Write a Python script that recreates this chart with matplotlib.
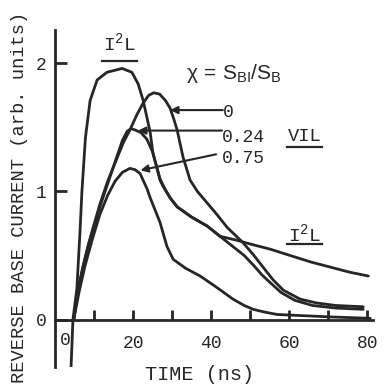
import matplotlib
matplotlib.use('Agg')
import matplotlib.pyplot as plt

# fonts: typewriter look like the scanned figure
plt.rcParams['font.family'] = ['Liberation Mono', 'DejaVu Sans']
plt.rcParams['mathtext.fontset'] = 'custom'
plt.rcParams['mathtext.rm'] = 'Liberation Mono'
plt.rcParams['mathtext.sf'] = 'Liberation Sans'
plt.rcParams['mathtext.it'] = 'Liberation Mono'

ink = '#262626'

# I2L curve (time in ns, current in arb. units)
t_i2l = [4.1, 4.6, 5.6, 6.4, 6.9, 7.8, 9.0, 10.8, 13.3, 17.2, 19.7, 21.3, 22.6,
         24.4, 25.1, 26.9, 27.7, 29.5, 31.3, 35.0, 39.0, 42.3, 46.5, 50.0, 55.1,
         60.3, 65.5, 70.5, 75.5, 80.3]
i_i2l = [-0.38, 0.0, 0.24, 0.68, 1.0, 1.42, 1.71, 1.87, 1.93, 1.96, 1.93, 1.84, 1.71,
         1.46, 1.30, 1.09, 1.04, 0.95, 0.88, 0.80, 0.73, 0.65, 0.62, 0.59, 0.55,
         0.50, 0.45, 0.41, 0.37, 0.34]

# VIL, chi = 0
t_x0 = [4.8, 6.0, 7.2, 8.5, 9.7, 11.5, 13.5, 15.9, 17.5, 19.2, 21.0, 22.6, 24.0,
        25.3, 26.8, 28.3, 29.5, 30.5, 31.3, 32.8, 34.6, 36.5, 39.0, 41.5, 44.1,
        48.2, 51.0, 53.3, 55.9, 58.5, 62.8, 67.0, 72.0, 79.0]
i_x0 = [0.0, 0.25, 0.42, 0.58, 0.71, 0.90, 1.08, 1.26, 1.38, 1.48, 1.60, 1.69, 1.75,
        1.77, 1.76, 1.71, 1.65, 1.56, 1.48, 1.27, 1.09, 1.00, 0.91, 0.82, 0.72,
        0.60, 0.50, 0.41, 0.31, 0.23, 0.16, 0.13, 0.11, 0.10]

# VIL, chi = 0.24
t_x24 = [4.8, 6.0, 7.2, 8.5, 9.7, 11.5, 13.5, 15.5, 17.3, 18.5, 19.5, 20.5, 22.0,
         23.5, 25.0, 26.9, 28.0, 29.5, 31.3, 35.0, 39.0, 42.3, 45.6, 48.5, 51.0,
         53.0, 55.1, 58.0, 61.5, 66.0, 72.0, 79.0]
i_x24 = [0.0, 0.24, 0.41, 0.57, 0.70, 0.88, 1.06, 1.24, 1.40, 1.47, 1.49, 1.48, 1.46,
         1.41, 1.31, 1.10, 1.03, 0.95, 0.88, 0.80, 0.73, 0.65, 0.57, 0.50, 0.42,
         0.35, 0.29, 0.21, 0.15, 0.11, 0.09, 0.08]

# VIL, chi = 0.75
t_x75 = [4.8, 6.2, 7.7, 9.5, 11.5, 13.5, 15.4, 17.3, 19.2, 20.5, 21.8, 23.6, 24.4,
         26.9, 28.7, 30.3, 33.5, 37.2, 41.5, 45.6, 48.5, 50.8, 53.5, 56.9, 64.0,
         71.3, 80.8]
i_x75 = [0.0, 0.22, 0.42, 0.62, 0.82, 0.97, 1.08, 1.15, 1.18, 1.17, 1.14, 1.02, 0.95,
         0.76, 0.57, 0.47, 0.40, 0.34, 0.25, 0.16, 0.11, 0.08, 0.06, 0.04, 0.03,
         0.02, 0.01]

fig = plt.figure(figsize=(3.84, 3.87), dpi=100)
ax = fig.add_axes([55 / 384, 20 / 387, 318 / 384, 337 / 387])

for t, i in [(t_i2l, i_i2l), (t_x0, i_x0), (t_x24, i_x24), (t_x75, i_x75)]:
    ax.plot(t, i, color=ink, lw=2.0, solid_capstyle='round', solid_joinstyle='round')

ax.set_xlim(0, 81.5)
ax.set_ylim(-0.37, 2.26)

for s in ['top', 'right']:
    ax.spines[s].set_visible(False)
ax.spines['bottom'].set_position(('data', 0))
for s in ['left', 'bottom']:
    ax.spines[s].set_linewidth(2.0)
    ax.spines[s].set_color(ink)

ax.set_xticks([20, 40, 60, 80])
ax.set_xticks([10, 30, 50, 70], minor=True)
ax.set_xticklabels(['20', '40', '60', '80'])
ax.tick_params(axis='x', which='both', direction='in', length=7, width=2,
               color=ink, pad=11, labelsize=13, labelcolor=ink)
ax.set_yticks([0, 1, 2])
ax.tick_params(axis='y', direction='in', length=8.5, width=2, color=ink,
               pad=6, labelsize=13, labelcolor=ink)
ax.text(2.6, -0.10, '0', fontsize=13, color=ink, ha='center', va='top')

# labels on the curves
ax.text(16.5, 2.16, r'$\mathrm{I^2L}$', fontsize=14, color=ink, ha='center', va='center')
ax.plot([12, 21], [2.02, 2.02], color=ink, lw=1.6)
ax.text(33.5, 1.92, r'$\mathsf{\chi\ =\ S_{BI}/S_B}$', fontsize=15, color=ink,
        ha='left', va='center')

ax.text(43.0, 1.62, '0', fontsize=13, color=ink, ha='left', va='center')
ax.text(42.8, 1.42, '0.24', fontsize=13, color=ink, ha='left', va='center')
ax.text(42.8, 1.26, '0.75', fontsize=13, color=ink, ha='left', va='center')
arrow = dict(arrowstyle='-|>', lw=1.5, color=ink, mutation_scale=11,
             shrinkA=0, shrinkB=0)
ax.annotate('', xy=(29.5, 1.635), xytext=(43.0, 1.635), arrowprops=arrow)
ax.annotate('', xy=(21.3, 1.475), xytext=(42.8, 1.475), arrowprops=arrow)
ax.annotate('', xy=(21.9, 1.165), xytext=(41.3, 1.29), arrowprops=arrow)

ax.text(64, 1.43, 'VIL', fontsize=13.5, color=ink, ha='center', va='center')
ax.plot([59.5, 68.5], [1.35, 1.35], color=ink, lw=1.6)
ax.text(64, 0.67, r'$\mathrm{I^2L}$', fontsize=14, color=ink, ha='center', va='center')
ax.plot([59.5, 68.5], [0.59, 0.59], color=ink, lw=1.6)

fig.text(200 / 384, 1 - 375 / 387, 'TIME (ns)', fontsize=14.5, color=ink,
         ha='center', va='center')
fig.text(20 / 384, 1 - 197 / 387, 'REVERSE BASE CURRENT (arb. units)', fontsize=13.5,
         color=ink, ha='center', va='center', rotation=90)

fig.savefig('out.png', dpi=100, facecolor='white')
